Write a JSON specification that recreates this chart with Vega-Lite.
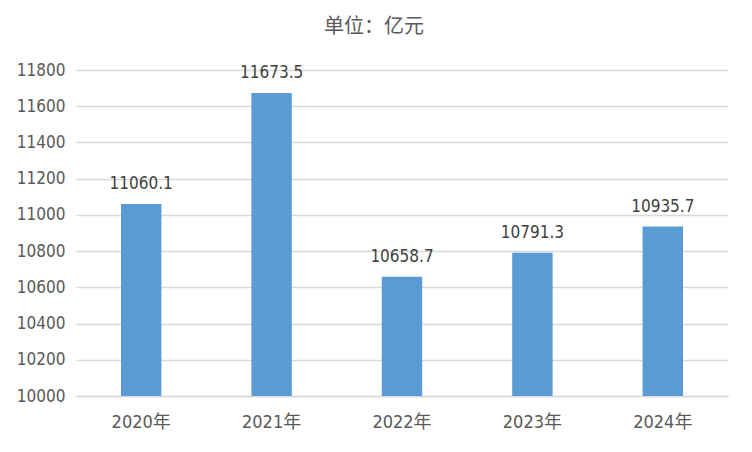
{
  "$schema": "https://vega.github.io/schema/vega-lite/v6.json",
  "width": 652,
  "height": 326,
  "autosize": {"type": "none"},
  "padding": {"left": 76, "top": 70, "right": 24, "bottom": 56},
  "background": "white",
  "title": {
    "text": "单位：亿元",
    "anchor": "middle",
    "offset": 24,
    "dx": -28,
    "fontSize": 20,
    "font": "DejaVu Sans Condensed, Noto Sans CJK SC",
    "fontWeight": "normal",
    "color": "#595959"
  },
  "data": {
    "values": [
      {"year": "2020年", "value": 11060.1},
      {"year": "2021年", "value": 11673.5},
      {"year": "2022年", "value": 10658.7},
      {"year": "2023年", "value": 10791.3},
      {"year": "2024年", "value": 10935.7}
    ]
  },
  "encoding": {
    "x": {
      "field": "year",
      "type": "nominal",
      "sort": null,
      "scale": {"paddingInner": 0.69, "paddingOuter": 0.345},
      "axis": {
        "title": null,
        "labelAngle": 0,
        "ticks": false,
        "domainColor": "#d9d9d9",
        "domainWidth": 1.5,
        "labelPadding": 17,
        "labelFontSize": 18,
        "labelColor": "#595959",
        "labelFont": "DejaVu Sans Condensed, Noto Sans CJK SC"
      }
    },
    "y": {
      "field": "value",
      "type": "quantitative",
      "scale": {"domain": [10000, 11800], "zero": false, "nice": false},
      "axis": {
        "title": null,
        "values": [10000, 10200, 10400, 10600, 10800, 11000, 11200, 11400, 11600, 11800],
        "format": "d",
        "ticks": false,
        "domain": false,
        "gridColor": "#d9d9d9",
        "gridWidth": 1.5,
        "labelPadding": 11,
        "labelFontSize": 17,
        "labelColor": "#595959",
        "labelFont": "DejaVu Sans Condensed, Noto Sans CJK SC"
      }
    }
  },
  "layer": [
    {
      "mark": {"type": "bar", "color": "#5b9bd5"},
      "encoding": {"y2": {"datum": 10000}}
    },
    {
      "mark": {
        "type": "text",
        "dy": -11,
        "baseline": "bottom",
        "fontSize": 17,
        "color": "#404040",
        "font": "DejaVu Sans Condensed"
      },
      "encoding": {"text": {"field": "value", "type": "quantitative", "format": ".1f"}}
    }
  ],
  "config": {"view": {"stroke": null}}
}
